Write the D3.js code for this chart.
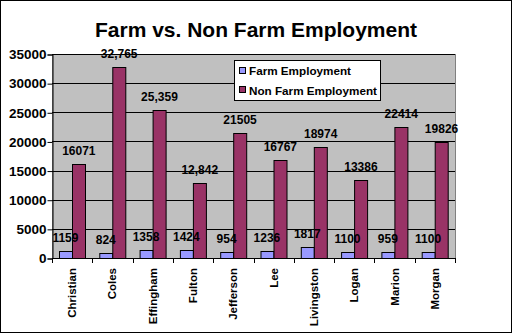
<!DOCTYPE html>
<html>
<head>
<meta charset="utf-8">
<script src="https://cdn.jsdelivr.net/npm/d3@7"></script>
<style>
  html, body { margin: 0; padding: 0; background: #fff; }
  svg { display: block; font-family: Arial, "Liberation Sans", sans-serif; }
</style>
</head>
<body>
<svg id="chart" width="513" height="335"></svg>
<script>
// County employment figures
const counties = ["Christian", "Coles", "Effingham", "Fulton", "Jefferson", "Lee", "Livingston", "Logan", "Marion", "Morgan"];
const seriesNames = ["Farm Employment", "Non Farm Employment"];
const farmValues = [1159, 824, 1358, 1424, 954, 1236, 1817, 1100, 959, 1100];
const nonFarmValues = [16071, 32765, 25359, 12842, 21505, 16767, 18974, 13386, 22414, 19826];
// Some labels in the source sheet carry thousands separators, others do not
const nonFarmUseComma = [false, true, true, true, false, false, false, false, false, false];
const yTicks = [0, 5000, 10000, 15000, 20000, 25000, 30000, 35000];
const colors = ["#9999FF", "#993366"];

const svg = d3.select("#chart");
const plot = { left: 52, right: 455, top: 54, bottom: 258 };

// outer frame
svg.append("rect")
  .attr("x", 0.5).attr("y", 0.5).attr("width", 511).attr("height", 332)
  .attr("fill", "#fff").attr("stroke", "#000").attr("stroke-width", 1);

// title
svg.append("text")
  .attr("x", 256).attr("y", 37)
  .attr("text-anchor", "middle")
  .attr("font-size", 21).attr("font-weight", "bold")
  .text("Farm vs. Non Farm Employment");

const x = d3.scaleBand().domain(counties).range([plot.left, plot.right]).paddingInner(0).paddingOuter(0);
const xs = d3.scaleBand().domain(seriesNames).range([0, x.bandwidth()]).paddingInner(0).paddingOuter(0.5);
const y = d3.scaleLinear().domain([0, 35000]).range([plot.bottom, plot.top]);

// plot area background
svg.append("rect")
  .attr("x", plot.left + 0.5).attr("y", plot.top + 0.5)
  .attr("width", plot.right - plot.left).attr("height", plot.bottom - plot.top)
  .attr("fill", "#C0C0C0").attr("stroke", "#808080").attr("stroke-width", 1);

// gridlines
svg.append("g").selectAll("line")
  .data(yTicks.filter(t => t > 0))
  .join("line")
  .attr("x1", plot.left).attr("x2", plot.right)
  .attr("y1", d => Math.round(y(d)) + 0.5).attr("y2", d => Math.round(y(d)) + 0.5)
  .attr("stroke", "#000").attr("stroke-width", 1);

// bars
const rows = counties.map((c, i) => ({
  county: c,
  vals: [
    { key: seriesNames[0], value: farmValues[i], label: String(farmValues[i]) },
    { key: seriesNames[1], value: nonFarmValues[i],
      label: nonFarmUseComma[i] ? d3.format(",")(nonFarmValues[i]) : String(nonFarmValues[i]) }
  ]
}));

const groups = svg.append("g").selectAll("g")
  .data(rows).join("g")
  .attr("transform", d => `translate(${x(d.county)},0)`);

groups.selectAll("rect")
  .data(d => d.vals).join("rect")
  .attr("x", d => Math.round(xs(d.key)) + 0.5)
  .attr("y", d => Math.round(y(d.value)) + 0.5)
  .attr("width", Math.round(xs.bandwidth()))
  .attr("height", d => Math.round(y(0)) - Math.round(y(d.value)))
  .attr("fill", (d, i) => colors[i])
  .attr("stroke", "#000").attr("stroke-width", 1);

groups.selectAll("text")
  .data(d => d.vals).join("text")
  .attr("x", d => xs(d.key) + xs.bandwidth() / 2)
  .attr("y", d => y(d.value) - 9)
  .attr("text-anchor", "middle")
  .attr("font-size", 12).attr("font-weight", "bold")
  .text(d => d.label);

// y axis
const yAxis = d3.axisLeft(y).tickValues(yTicks).tickSize(5).tickFormat(d3.format("d"));
const gy = svg.append("g").attr("transform", `translate(${plot.left + 0.5},0.5)`).call(yAxis);
gy.select(".domain").attr("stroke", "#000");
gy.selectAll(".tick line").attr("stroke", "#000");
gy.selectAll(".tick text")
  .attr("font-size", 13.5).attr("font-weight", "bold")
  .attr("font-family", "Arial, 'Liberation Sans', sans-serif")
  .attr("fill", "#000").attr("x", -6);

// x axis: line with ticks at category boundaries
const gx = svg.append("g");
gx.append("line")
  .attr("x1", plot.left).attr("x2", plot.right + 1)
  .attr("y1", plot.bottom + 0.5).attr("y2", plot.bottom + 0.5)
  .attr("stroke", "#000");
const boundaries = counties.map(c => x(c)).concat([plot.right]);
gx.selectAll("line.tk")
  .data(boundaries).join("line").attr("class", "tk")
  .attr("x1", d => Math.round(d) + 0.5).attr("x2", d => Math.round(d) + 0.5)
  .attr("y1", plot.bottom).attr("y2", plot.bottom + 5)
  .attr("stroke", "#000");

// category labels, rotated
svg.append("g").selectAll("text")
  .data(counties).join("text")
  .attr("transform", d => `translate(${x(d) + x.bandwidth() / 2},268) rotate(-90)`)
  .attr("text-anchor", "end")
  .attr("dy", "0.35em")
  .attr("font-size", 11.5).attr("font-weight", "bold")
  .text(d => d);

// legend
const lg = svg.append("g");
lg.append("rect")
  .attr("x", 234.5).attr("y", 60.5).attr("width", 146).attr("height", 40)
  .attr("fill", "#fff").attr("stroke", "#000");
seriesNames.forEach((name, i) => {
  lg.append("rect")
    .attr("x", 239.5).attr("y", 67.5 + i * 19).attr("width", 6).attr("height", 6)
    .attr("fill", colors[i]).attr("stroke", "#000");
  lg.append("text")
    .attr("x", 249).attr("y", 75 + i * 20)
    .attr("font-size", 11.7).attr("font-weight", "bold")
    .text(name);
});
</script>
</body>
</html>
